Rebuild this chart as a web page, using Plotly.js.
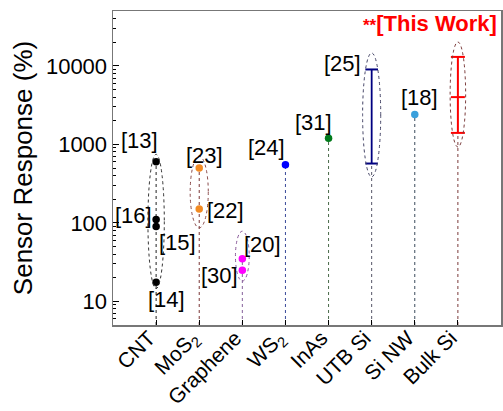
<!DOCTYPE html>
<html>
<head>
<meta charset="utf-8">
<script src="https://cdn.plot.ly/plotly-3.0.1.min.js"></script>
<style>html,body{margin:0;padding:0;background:#fff;}#chart{width:503px;height:411px;}</style>
</head>
<body>
<div id="chart"></div>
<script>
// ---- data ----
const categories = ["CNT", "MoS<sub>2</sub>", "Graphene", "WS<sub>2</sub>", "InAs", "UTB Si", "Si NW", "Bulk Si"];
const catPos = [1, 2, 3, 4, 5, 6, 7, 8];
const cntValues = [600, 110, 90, 17.5];
const cntRefs = ["[13]", "[16]", "[15]", "[14]"];
const mos2Values = [500, 150];
const mos2Refs = ["[23]", "[22]"];
const grapheneValues = [35, 25];
const grapheneRefs = ["[20]", "[30]"];
const ws2Values = [550];
const ws2Refs = ["[24]"];
const inasValues = [1200];
const inasRefs = ["[31]"];
const utbSiRange = [570, 9000];
const utbSiRefs = ["[25]"];
const siNwValues = [2400];
const siNwRefs = ["[18]"];
const bulkSiValues = [1400, 4000, 13000];
const yTickVals = [10, 100, 1000, 10000];
const yTickText = ["10", "100", "1000", "10000"];
const yRange = [5, 50000];

// ---- styles ----
const FONT = "Liberation Sans, Arial, sans-serif";
const groups = [
  {pos: 1, vals: cntValues, color: "#000000", lineColor: "#222222", refs: cntRefs,
   shifts: [[-17, 21], [-23, 4], [21, -16], [10, -17]], refIdx: [0, 1, 2, 3],
   ellipse: {hw: 0.19, padLo: 0.08, padHi: 0.095, color: "#333333"}},
  {pos: 2, vals: mos2Values, color: "#f28a22", lineColor: "#7a3535", refs: mos2Refs,
   shifts: [[5, 13], [26, -1]], refIdx: [0, 1],
   ellipse: {hw: 0.21, padLo: 0.24, padHi: 0.15, color: "#8a4a4a"}},
  {pos: 3, vals: grapheneValues, color: "#ff00ff", lineColor: "#85609a", refs: grapheneRefs,
   shifts: [[20, 14], [-23, -5]], refIdx: [0, 1],
   ellipse: {hw: 0.16, padLo: 0.14, padHi: 0.35, color: "#8a5a9a"}},
  {pos: 4, vals: ws2Values, color: "#0000ff", lineColor: "#3a4a9a", refs: ws2Refs,
   shifts: [[-19, 17]], refIdx: [0]},
  {pos: 5, vals: inasValues, color: "#007a1a", lineColor: "#4a6a4a", refs: inasRefs,
   shifts: [[-15, 16]], refIdx: [0]},
  {pos: 7, vals: siNwValues, color: "#3aa0dc", lineColor: "#3a4a5a", refs: siNwRefs,
   shifts: [[5, 17]], refIdx: [0]}
];

const traces = [];
const shapes = [];
const annotations = [];
const log = Math.log10;

function dropLine(pos, top, color) {
  traces.push({x: [pos, pos], y: [yRange[0], top], mode: "lines", type: "scatter",
    line: {color: color, width: 1, dash: "dot"}, hoverinfo: "skip", showlegend: false});
}
function ellipse(pos, lo, hi, e) {
  shapes.push({type: "circle", xref: "x", yref: "y", x0: pos - e.hw, x1: pos + e.hw,
    y0: Math.pow(10, log(lo) - e.padLo), y1: Math.pow(10, log(hi) + e.padHi),
    line: {color: e.color, width: 1, dash: "dot"}, layer: "above"});
}

groups.forEach(g => {
  dropLine(g.pos, Math.max(...g.vals), g.lineColor);
});
dropLine(6, utbSiRange[0], "#555566");
dropLine(8, bulkSiValues[0], "#7a3a3a");

groups.forEach(g => {
  traces.push({x: g.vals.map(() => g.pos), y: g.vals, mode: "markers", type: "scatter",
    marker: {color: g.color, size: 7.5}, showlegend: false});
  if (g.ellipse) ellipse(g.pos, Math.min(...g.vals), Math.max(...g.vals), g.ellipse);
  g.refs.forEach((r, i) => {
    annotations.push({x: g.pos, y: log(g.vals[g.refIdx[i]]), xref: "x", yref: "y", text: r,
      showarrow: false, xshift: g.shifts[i][0], yshift: g.shifts[i][1],
      font: {family: FONT, size: 22, color: "#000"}});
  });
});

// UTB Si range bar
traces.push({x: [6, 6], y: utbSiRange, mode: "lines+markers", type: "scatter",
  line: {color: "#000080", width: 1.8}, marker: {symbol: "line-ew-open", size: 9, line: {color: "#000080", width: 2}},
  showlegend: false});
ellipse(6, utbSiRange[0], utbSiRange[1], {hw: 0.21, padLo: 0.17, padHi: 0.21, color: "#444466"});
annotations.push({x: 6, y: log(utbSiRange[1]), xref: "x", yref: "y", text: utbSiRefs[0], showarrow: false,
  xshift: -29, yshift: 6, font: {family: FONT, size: 22, color: "#000"}});

// Bulk Si (this work)
traces.push({x: [8, 8, 8], y: bulkSiValues, mode: "lines+markers", type: "scatter",
  line: {color: "#ff0000", width: 2}, marker: {symbol: "line-ew-open", size: 10, line: {color: "#ff0000", width: 2}},
  showlegend: false});
ellipse(8, bulkSiValues[0], bulkSiValues[2], {hw: 0.18, padLo: 0.18, padHi: 0.19, color: "#7a3a3a"});

annotations.push({x: 0.994, y: 0.961, xref: "paper", yref: "paper", xanchor: "right", yanchor: "middle",
  text: "<b><span style='font-size:17px'>**</span>[This Work]</b>", showarrow: false,
  font: {family: FONT, size: 22, color: "#ff0000"}});

const layout = {
  width: 503, height: 411,
  margin: {l: 113, r: 2, t: 11, b: 86, pad: 0},
  paper_bgcolor: "#fff", plot_bgcolor: "#fff",
  showlegend: false,
  font: {family: FONT, color: "#000"},
  xaxis: {type: "linear", range: [0, 9], tickvals: catPos, ticktext: categories, tickangle: -45,
    ticks: "inside", ticklen: 5, tickcolor: "#000", showgrid: false, zeroline: false,
    showline: true, linecolor: "#777", linewidth: 1.5, mirror: true,
    ticklabelstandoff: -9, ticklabelshift: -7,
    tickfont: {family: FONT, size: 21, color: "#000"}},
  yaxis: {type: "log", range: [log(yRange[0]), log(yRange[1])], tickvals: yTickVals, ticktext: yTickText,
    ticks: "inside", ticklen: 6, tickcolor: "#000", showgrid: false, zeroline: false,
    showline: true, linecolor: "#777", linewidth: 1.5, mirror: true,
    minor: {ticks: "inside", ticklen: 3, tickcolor: "#000", showgrid: false, dtick: "D1"},
    tickfont: {family: FONT, size: 22, color: "#000"},
    title: {text: "Sensor Response (%)", font: {family: FONT, size: 26, color: "#000"}, standoff: 6}},
  shapes: shapes,
  annotations: annotations
};

Plotly.newPlot("chart", traces, layout, {displayModeBar: false, staticPlot: true});
</script>
</body>
</html>
